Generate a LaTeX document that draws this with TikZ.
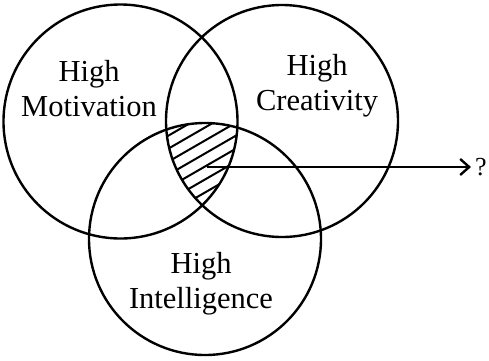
\documentclass[tikz,border=0pt]{standalone}
\usepackage{fontspec}
\setmainfont{Liberation Serif}
\usetikzlibrary{arrows.meta}
\begin{document}
\begin{tikzpicture}[x=1pt,y=-1pt,
  ring/.style={draw,line width=2.4pt,circle,minimum size=232pt,inner sep=0pt},
  lbl/.style={align=center,font=\fontsize{30.5}{35}\selectfont,inner sep=0pt},
  hatch/.style={line width=2pt},
  arr/.style={line width=2.4pt,-{Straight Barb[length=9pt,width=16pt,line width=2.4pt]}}]
\useasboundingbox (0,0) rectangle (489,360);
\node[ring,minimum size=234pt] (M) at (120.5,121.5) {};
\node[ring] (C) at (282,121) {};
\node[ring] (I) at (205,239) {};
\begin{scope}
  \clip (120.5,121.5) circle (117);
  \clip (282,121) circle (116);
  \clip (205,239) circle (116);
  \foreach \k in {0,...,14}{
    \draw[hatch] (140,{100+\k*13}) -- (280,{100+\k*13-80.8});
  }
\end{scope}
\node[lbl] (tm) at (89,89) {High\\Motivation};
\node[lbl] (tc) at (317,86) {High\\Creativity};
\node[lbl] (ti) at (201,284) {High\\Intelligence};
\coordinate (s) at (207,167);
\node[font=\fontsize{26}{30}\selectfont,inner sep=0pt,anchor=west] (q) at (475,167) {?};
\draw[arr] (s) -- ([xshift=-4pt]q.west);
\end{tikzpicture}
\end{document}
